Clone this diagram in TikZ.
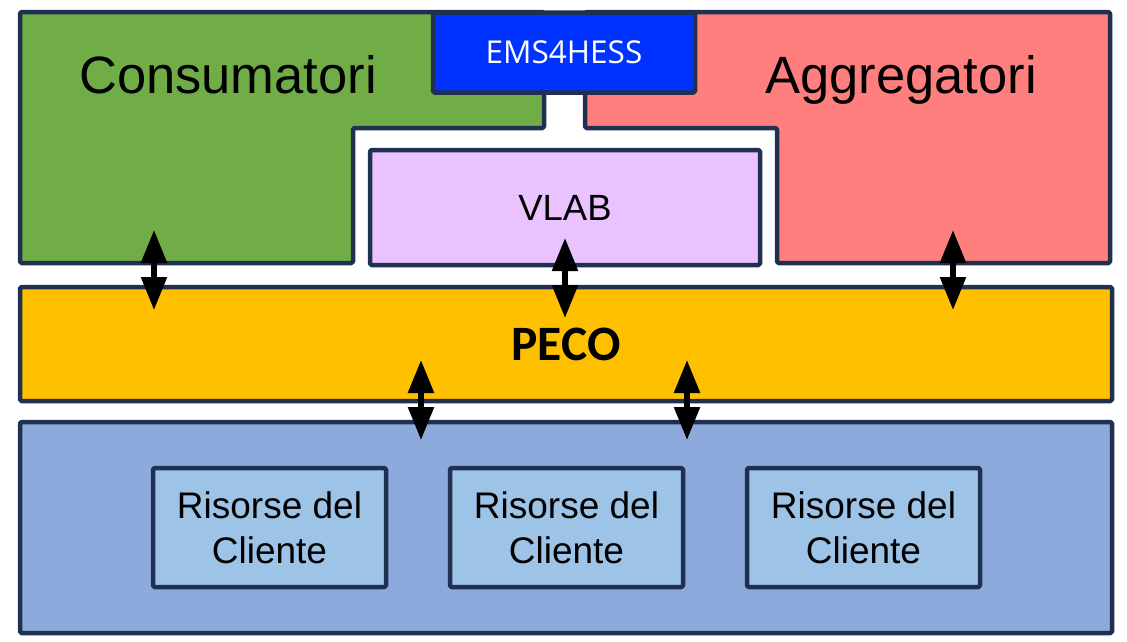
\documentclass[tikz,border=0pt]{standalone}
\usepackage{fontspec}
\setmainfont{Liberation Sans}
\newfontfamily\calibrifont{Carlito}
\newfontfamily\segoefont{Open Sans}
\usetikzlibrary{arrows.meta}
\definecolor{bordc}{HTML}{1F3050}
\definecolor{consc}{HTML}{70AD47}
\definecolor{aggrc}{HTML}{FF7F7F}
\definecolor{emsc}{HTML}{0033FF}
\definecolor{vlabc}{HTML}{E9C2FF}
\definecolor{pecoc}{HTML}{FFC000}
\definecolor{basec}{HTML}{8EA9DB}
\definecolor{risc}{HTML}{9DC3E6}
\tikzset{
  panel/.style={draw=bordc, line width=4.5pt, rounded corners=1.5pt, line join=round},
  boxnode/.style={panel, rectangle, inner sep=0pt, outer sep=0pt, align=center},
  risbox/.style={boxnode, fill=risc, minimum width=233pt, minimum height=119pt,
    font=\fontsize{37}{45}\selectfont},
  biarrow/.style={line width=5.5pt, {Triangle[length=33pt,width=25pt]}-{Triangle[length=33pt,width=25pt]}},
}
\begin{document}
\begin{tikzpicture}[x=1pt,y=-1pt]
\useasboundingbox (0,0) rectangle (1127,641);
% Consumatori
\draw[panel, fill=consc] (20,12) -- (544,12) -- (544,128) -- (353,128) -- (353,263) -- (20,263) -- cycle;
% Aggregatori
\draw[panel, fill=aggrc] (585,12) -- (1110,12) -- (1110,263) -- (777,263) -- (777,128) -- (585,128) -- cycle;
\node[anchor=base, inner sep=0pt, font=\fontsize{52.5}{60}\selectfont] (cons) at (228,93) {Consumatori};
\node[anchor=base, inner sep=0pt, font=\fontsize{52.5}{60}\selectfont] (aggr) at (901,93) {Aggregatori};
% EMS4HESS
\node[boxnode, fill=emsc, minimum width=262pt, minimum height=80pt, text=white,
  font=\segoefont\fontsize{31.5}{36}\selectfont] (ems) at (564,52.5) {EMS4HESS};
% VLAB
\node[boxnode, fill=vlabc, minimum width=390pt, minimum height=115pt,
  font=\fontsize{36.5}{42}\selectfont] (vlab) at (565,207.5) {VLAB};
% PECO
\node[boxnode, fill=pecoc, minimum width=1092pt, minimum height=114pt,
  font=\calibrifont\bfseries\fontsize{49.5}{56}\selectfont] (peco) at (566,344) {PECO};
% base
\node[boxnode, fill=basec, minimum width=1092pt, minimum height=211pt] (base) at (566,527.5) {};
\node[risbox] (r1) at (269.5,527.5) {Risorse del\\Cliente};
\node[risbox] (r2) at (566.5,527.5) {Risorse del\\Cliente};
\node[risbox] (r3) at (863.5,527.5) {Risorse del\\Cliente};
% arrow end points
\coordinate (a1t) at (154,230); \coordinate (a1b) at (154,310);
\coordinate (a2t) at (565,238); \coordinate (a2b) at (565,318);
\coordinate (a3t) at (953,230); \coordinate (a3b) at (953,310);
\coordinate (a4t) at (421,360); \coordinate (a4b) at (421,440);
\coordinate (a5t) at (687,360); \coordinate (a5b) at (687,440);
\draw[biarrow] (a1t) -- (a1b);
\draw[biarrow] (a2t) -- (a2b);
\draw[biarrow] (a3t) -- (a3b);
\draw[biarrow] (a4t) -- (a4b);
\draw[biarrow] (a5t) -- (a5b);
\end{tikzpicture}
\end{document}
